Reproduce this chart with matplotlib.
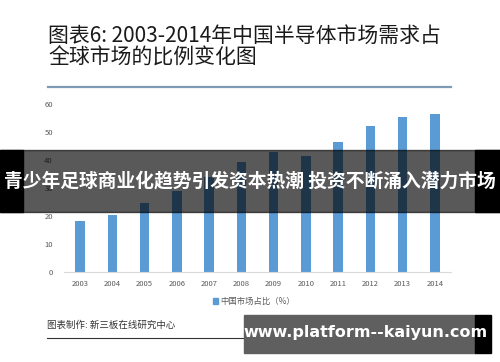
import matplotlib
matplotlib.use("Agg")
import matplotlib.pyplot as plt
from matplotlib.patches import Rectangle
from matplotlib.lines import Line2D

plt.rcParams['font.family'] = ['Noto Sans CJK SC', 'DejaVu Sans']

# data
years = ["2003", "2004", "2005", "2006", "2007", "2008",
         "2009", "2010", "2011", "2012", "2013", "2014"]
share = [18.4, 20.3, 24.7, 29.0, 34.0, 39.5, 42.8, 41.6, 46.5, 52.4, 55.4, 56.5]
y_ticks = [0, 10, 20, 30, 40, 50, 60]

title = "图表6: 2003-2014年中国半导体市场需求占\n全球市场的比例变化图"
legend_label = "中国市场占比（%）"
source = "图表制作: 新三板在线研究中心"
banner = "青少年足球商业化趋势引发资本热潮 投资不断涌入潜力市场"
site = "www.platform--kaiyun.com"

W, H = 500, 362
BLUE = "#5b9bd5"


def fx(px):
    return px / W


def fy(py):
    return 1 - py / H


fig = plt.figure(figsize=(5, 3.62), dpi=100, facecolor="white")

# title
fig.text(fx(48), fy(47), title, fontsize=15, color="#1a1a1a",
         ha="left", va="center", linespacing=1.0)
fig.add_artist(Line2D([fx(48), fx(451)], [fy(87), fy(87)], color="#7f9bb5", lw=1.6))

# chart
ax = fig.add_axes([fx(64), fy(272), fx(451) - fx(64), fy(104.3) - fy(272)])
ax.patch.set_alpha(0)
x = range(len(years))
ax.bar(x, share, width=0.3, color=BLUE, zorder=2)
ax.set_xlim(-0.5, len(years) - 0.5)
ax.set_ylim(0, 60)
ax.set_yticks(y_ticks)
ax.set_xticks(list(x))
ax.set_xticklabels(years)
ax.tick_params(axis="both", length=0, labelsize=5.5, labelcolor="#595959")
ax.tick_params(axis="x", pad=6)
ax.tick_params(axis="y", pad=8)
for side in ["top", "right", "left"]:
    ax.spines[side].set_visible(False)
ax.spines["bottom"].set_color("#d9d9d9")
ax.spines["bottom"].set_linewidth(0.8)

# legend
fig.add_artist(Rectangle((fx(213), fy(304)), fx(5), fy(298) - fy(304), color=BLUE))
fig.text(fx(220), fy(301.5), legend_label, fontsize=6, color="#595959",
         ha="left", va="center")

# footer
fig.text(fx(47), fy(325), source, fontsize=6.8, color="#333333",
         ha="left", va="center")
fig.add_artist(Line2D([fx(47), fx(460)], [fy(338), fy(338)], color="#333333", lw=0.8))

# overlay banner
fig.add_artist(Rectangle((0, fy(211.7)), 1, fy(150) - fy(211.7),
                         color="black", alpha=0.65, zorder=10))
fig.add_artist(Rectangle((0, fy(211.7)), fx(23), fy(150) - fy(211.7),
                         color="black", zorder=11))
fig.add_artist(Rectangle((fx(475), fy(211.7)), fx(25), fy(150) - fy(211.7),
                         color="black", zorder=11))
fig.text(0.5, fy(181), banner, fontsize=13.5, fontweight="bold", color="white",
         ha="center", va="center", zorder=12)

# site banner
fig.add_artist(Rectangle((fx(244), fy(353)), fx(231), fy(315) - fy(353),
                         color="#5f5f5f", zorder=10))
fig.add_artist(Rectangle((fx(475), fy(353)), fx(16), fy(315) - fy(353),
                         color="black", zorder=10))
fig.text(fx(365), fy(333), site, fontsize=11.5, fontweight="bold", color="white",
         family="DejaVu Sans", ha="center", va="center", zorder=12)

fig.savefig("out.png", dpi=100, facecolor="white")
